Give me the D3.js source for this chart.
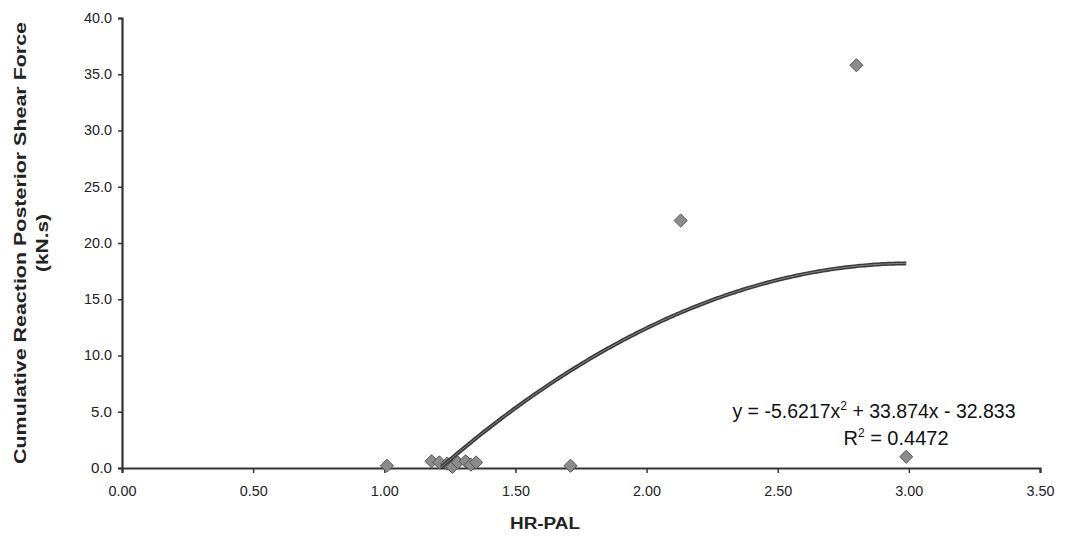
<!DOCTYPE html>
<html><head><meta charset="utf-8">
<script src="https://cdn.jsdelivr.net/npm/d3@7"></script>
<style>body{margin:0;background:#fff}svg{display:block}text{font-family:"Liberation Sans",Arial,sans-serif}</style>
</head><body><svg id="c" width="1082" height="540"></svg>
<script>
const xVals = [1.01, 1.18, 1.21, 1.24, 1.26, 1.28, 1.31, 1.33, 1.35, 1.71, 2.13, 2.80, 2.99];
const yVals = [0.2, 0.6, 0.5, 0.4, 0.1, 0.5, 0.6, 0.3, 0.5, 0.2, 22.0, 35.8, 1.0];
const xTicks = [0, 0.5, 1, 1.5, 2, 2.5, 3, 3.5];
const yTicks = [0, 5, 10, 15, 20, 25, 30, 35, 40];
const coef = [-5.6217, 33.874, -32.833];
const r2Text = "0.4472";

const svg = d3.select("#c");
const x = d3.scaleLinear().domain([0, 3.5]).range([122, 1040]);
const y = d3.scaleLinear().domain([0, 40]).range([468, 18]);
const col = "#333";

// axes
const xa = svg.append("g").attr("transform", "translate(0,468)")
  .call(d3.axisBottom(x).tickValues(xTicks).tickFormat(d3.format(".2f")).tickSize(5).tickPadding(13));
const ya = svg.append("g").attr("transform", "translate(122,0)")
  .call(d3.axisLeft(y).tickValues(yTicks).tickFormat(d3.format(".1f")).tickSize(4).tickPadding(6));
[xa, ya].forEach(a => {
  a.select(".domain").attr("stroke", col).attr("stroke-width", 2.2);
  a.selectAll(".tick line").attr("stroke", col).attr("stroke-width", 1.5);
  a.selectAll(".tick text").attr("fill", "#222").attr("font-size", 14)
    .attr("textLength", function() { return this.textContent.length * 7; })
    .attr("lengthAdjust", "spacingAndGlyphs");
});

// points
svg.append("g").selectAll("path").data(xVals.map((v, i) => [v, yVals[i]])).join("path")
  .attr("d", d3.symbol(d3.symbolDiamond2, 110))
  .attr("transform", d => `translate(${x(d[0])},${y(d[1])})`)
  .attr("fill", "#8c8c8c").attr("stroke", "#555").attr("stroke-width", 1);

// trendline
const f = v => coef[0]*v*v + coef[1]*v + coef[2];
const xmin = d3.min(xVals), xmax = d3.max(xVals);
const pts = d3.range(0, 201).map(i => xmin + (xmax - xmin) * i / 200).map(v => [v, f(v)]).filter(p => p[1] >= 0);
svg.append("path").datum(pts)
  .attr("d", d3.line().x(d => x(d[0])).y(d => y(d[1])))
  .attr("fill", "none").attr("stroke", "#3a3a3a").attr("stroke-width", 4);
svg.append("path").datum(pts)
  .attr("d", d3.line().x(d => x(d[0])).y(d => y(d[1])))
  .attr("fill", "none").attr("stroke", "#888").attr("stroke-width", 1);

// equation
const eq = svg.append("text").attr("x", 874).attr("y", 418).attr("text-anchor", "middle")
  .attr("font-size", 19.5).attr("fill", "#111");
eq.append("tspan").text("y = -5.6217x");
eq.append("tspan").attr("font-size", 12).attr("dy", -8).text("2");
eq.append("tspan").attr("dy", 8).text(" + 33.874x - 32.833");
const r2 = svg.append("text").attr("x", 896).attr("y", 445).attr("text-anchor", "middle")
  .attr("font-size", 20).attr("fill", "#111");
r2.append("tspan").text("R");
r2.append("tspan").attr("font-size", 12).attr("dy", -8).text("2");
r2.append("tspan").attr("dy", 8).text(" = " + r2Text);

// axis titles
svg.append("text").attr("x", 545).attr("y", 529).attr("text-anchor", "middle")
  .attr("font-size", 16).attr("font-weight", "bold").attr("fill", "#222")
  .attr("textLength", 70).attr("lengthAdjust", "spacingAndGlyphs").text("HR-PAL");
const yt = svg.append("g").attr("transform", "translate(26,243) rotate(-90)");
yt.append("text").attr("x", 0).attr("y", 0).attr("text-anchor", "middle")
  .attr("font-size", 17).attr("font-weight", "bold").attr("fill", "#222")
  .attr("textLength", 442).attr("lengthAdjust", "spacingAndGlyphs")
  .text("Cumulative Reaction Posterior Shear Force");
yt.append("text").attr("x", 0).attr("y", 22).attr("text-anchor", "middle")
  .attr("font-size", 17).attr("font-weight", "bold").attr("fill", "#222")
  .attr("textLength", 58).attr("lengthAdjust", "spacingAndGlyphs")
  .text("(kN.s)");
</script></body></html>
